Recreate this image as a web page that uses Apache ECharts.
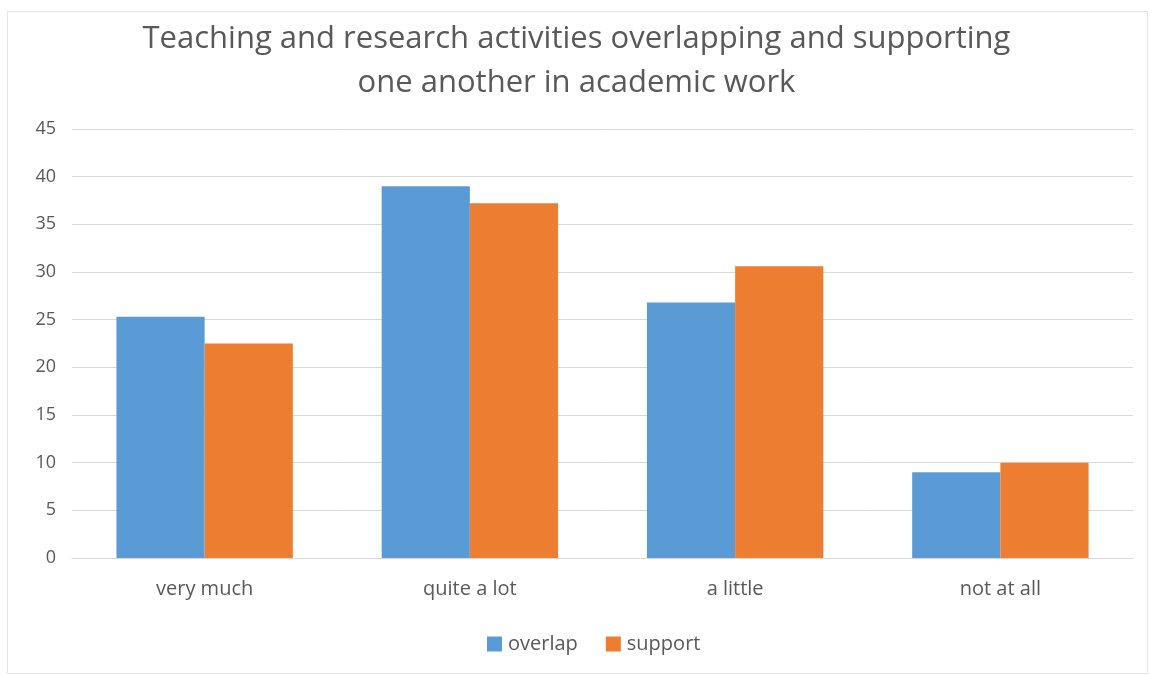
<!DOCTYPE html>
<html>
<head>
<meta charset="utf-8">
<script src="https://cdn.jsdelivr.net/npm/echarts@6/dist/echarts.min.js"></script>
<style>
    html, body {margin: 0; padding: 0; background: #fff;}
    #frame {position: absolute; left: 7px; top: 11px; width: 1139px; height: 661px; border: 1px solid #e6e6e6;}
    #chart {position: absolute; left: 0; top: 0; width: 1153px; height: 675px;}
</style>
</head>
<body>
<div id="frame"></div>
<div id="chart"></div>
<script>
let categories = ['very much', 'quite a lot', 'a little', 'not at all'];
let overlapValues = [25.3, 39, 26.8, 9];
let supportValues = [22.5, 37.2, 30.6, 10];
let yTicks = [0, 5, 10, 15, 20, 25, 30, 35, 40, 45];

let myChart = echarts.init(document.getElementById('chart'));
let fontFamily = '"Open Sans", sans-serif';
let option = {
    backgroundColor: 'transparent',
    color: ['#5b9bd5', '#ed7d31'],
    title: {
        text: 'Teaching and research activities overlapping and supporting\none another in academic work',
        left: 'center',
        top: 12,
        textStyle: {
            color: '#595959',
            fontSize: 31,
            fontWeight: 'normal',
            fontFamily: fontFamily,
            lineHeight: 44
        }
    },
    legend: {
        bottom: 16,
        left: 482,
        itemWidth: 15,
        itemHeight: 15,
        itemGap: 28,
        icon: 'rect',
        textStyle: {color: '#595959', fontSize: 20, fontFamily: fontFamily, padding: [0, 0, 0, 1]},
        data: ['overlap', 'support']
    },
    grid: {
        top: 129,
        left: 72,
        right: 20,
        bottom: 117
    },
    xAxis: {
        type: 'category',
        data: categories,
        axisTick: {show: false},
        axisLine: {lineStyle: {color: '#d9d9d9'}},
        axisLabel: {color: '#595959', fontSize: 20, fontFamily: fontFamily, margin: 21}
    },
    yAxis: {
        type: 'value',
        min: yTicks[0],
        max: yTicks[yTicks.length - 1],
        interval: 5,
        axisLine: {show: false},
        axisTick: {show: false},
        splitLine: {lineStyle: {color: '#d9d9d9', width: 1}},
        axisLabel: {color: '#595959', fontSize: 18, fontFamily: fontFamily, margin: 16}
    },
    series: [
        {
            name: 'overlap',
            type: 'bar',
            data: overlapValues,
            barGap: '0%',
            barCategoryGap: '33.5%'
        },
        {
            name: 'support',
            type: 'bar',
            data: supportValues
        }
    ]
};
myChart.setOption(option);
</script>
</body>
</html>
